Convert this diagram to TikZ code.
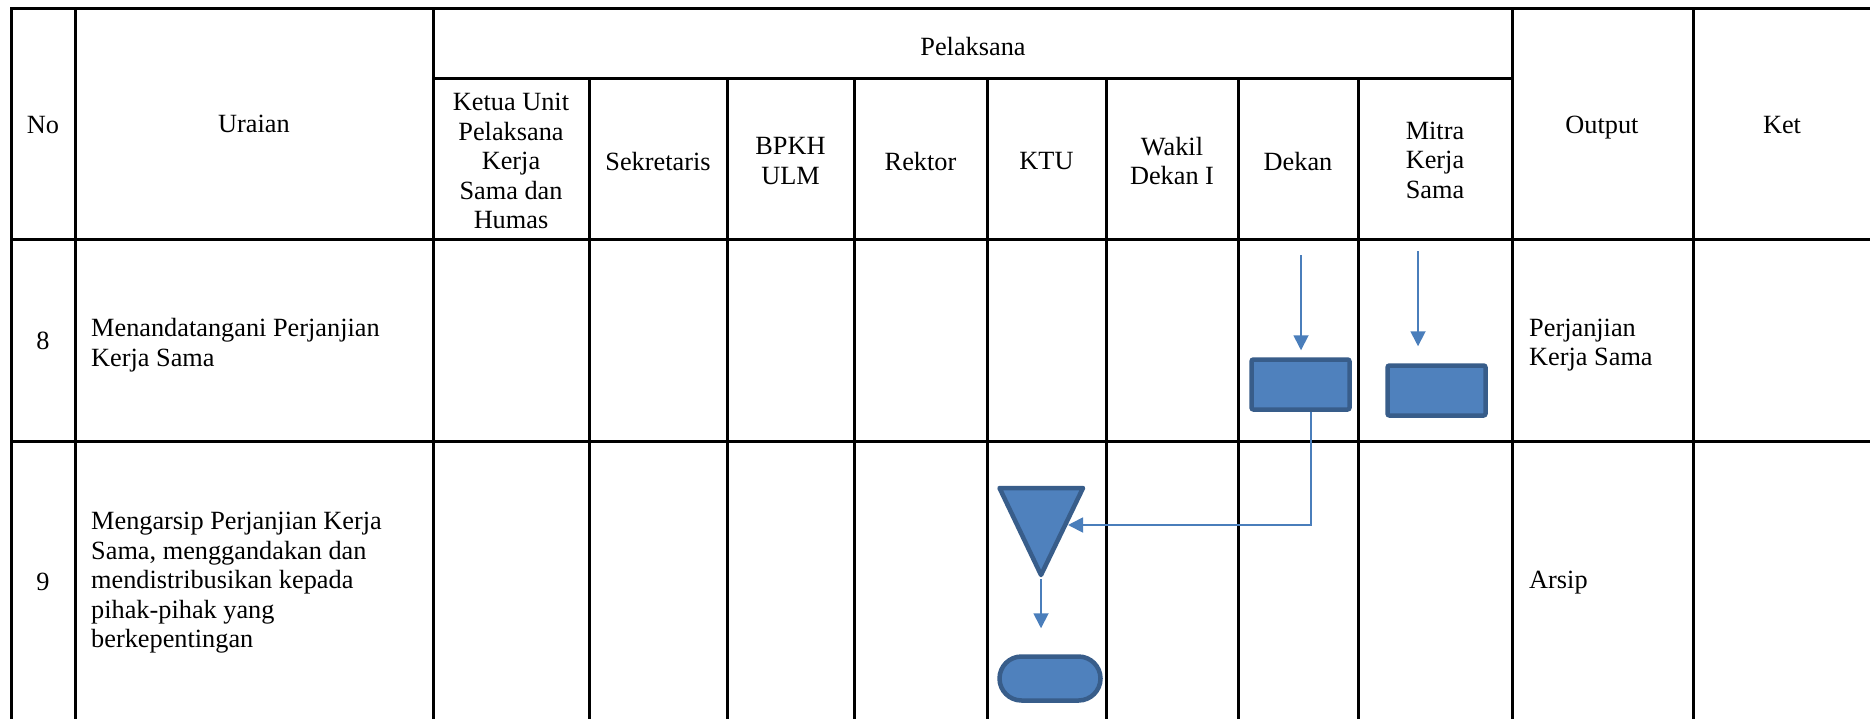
\documentclass[tikz,border=0pt]{standalone}
\usepackage{fontspec}
\setmainfont{Liberation Serif}
\usetikzlibrary{arrows.meta}
\definecolor{shapefill}{HTML}{4F81BD}
\definecolor{shapeline}{HTML}{385D8A}
\definecolor{connblue}{HTML}{4A7EBB}
\begin{document}
\begin{tikzpicture}[x=1pt,y=-1pt,
  gridline/.style={line width=3pt, black, line cap=rect},
  txt/.style={font=\fontsize{26.3}{29.5}\selectfont, inner sep=0pt, align=center},
  ltxt/.style={font=\fontsize{26.3}{29.5}\selectfont, inner sep=0pt, align=left, anchor=west},
  procbox/.style={draw=shapeline, fill=shapefill, line width=4.5pt, rounded corners=2pt,
    minimum width=98pt, minimum height=50pt, inner sep=0pt},
  termbox/.style={draw=shapeline, fill=shapefill, line width=4.5pt, rounded corners=22pt,
    minimum width=101pt, minimum height=44pt, inner sep=0pt},
  flowline/.style={draw=connblue, line width=1.8pt, -{Triangle[width=15pt,length=15pt]}}]
\useasboundingbox (0,0) rectangle (1870,718);
\fill[white] (0,0) rectangle (1870,718);

% table grid
\draw[gridline] (11,8.7) -- (1870,8.7);
\draw[gridline] (433,78.3) -- (1512,78.3);
\draw[gridline] (11,239.3) -- (1870,239.3);
\draw[gridline] (11,441) -- (1870,441);
\foreach \x in {11,75,433,1512,1693} \draw[gridline] (\x,8.7) -- (\x,725);
\foreach \x in {589,727,854,987,1106,1238,1358} \draw[gridline] (\x,78.3) -- (\x,725);

% header texts
\node[txt] (hNo) at (43,125) {No};
\node[txt] (hUraian) at (254,124) {Uraian};
\node[txt] (hPelaksana) at (973,47) {Pelaksana};
\node[txt] (hOutput) at (1602,128) {Output};
\node[txt] (hKet) at (1782,125) {Ket};
\node[txt] (hKetua) at (511,161) {Ketua Unit\\Pelaksana\\Kerja\\Sama dan\\Humas};
\node[txt] (hSekretaris) at (658,161) {Sekretaris};
\node[txt] (hBPKH) at (790.5,161) {BPKH\\ULM};
\node[txt] (hRektor) at (920.5,161) {Rektor};
\node[txt] (hKTU) at (1046.5,161) {KTU};
\node[txt] (hWakil) at (1172,161) {Wakil\\Dekan I};
\node[txt] (hDekan) at (1298,161) {Dekan};
\node[txt] (hMitra) at (1435,160) {Mitra\\Kerja\\Sama};

% row 8
\node[txt] (n8) at (43,341) {8};
\node[ltxt] (u8) at (91,345) {Menandatangani Perjanjian\\Kerja Sama};
\node[ltxt] (o8) at (1529,345) {Perjanjian\\Kerja Sama};

% row 9
\node[txt] (n9) at (43,582) {9};
\node[ltxt] (u9) at (91,583) {Mengarsip Perjanjian Kerja\\Sama, menggandakan dan\\mendistribusikan kepada\\pihak-pihak yang\\berkepentingan};
\node[ltxt] (o9) at (1529,583) {Arsip};

% flow shapes
\node[procbox] (dekan) at (1300.5,384.5) {};
\node[procbox] (mitra) at (1436.5,390.5) {};
\node[termbox] (term) at (1050,678.5) {};
\coordinate (triA) at (999.5,488);
\coordinate (triB) at (1083,488);
\coordinate (triC) at (1041,575);
\coordinate (triApex) at (1041,579);
\coordinate (triE) at (1068,525);
\draw[draw=shapeline, fill=shapefill, line width=4.5pt, line join=round] (triA) -- (triB) -- (triC) -- cycle;

% connectors
\coordinate (dekIn) at (1301,255);
\coordinate (mitIn) at (1418,251);
\coordinate (bend) at (1311,525);
\draw[flowline, shorten >=7pt] (dekIn) -- (dekIn |- dekan.north);
\draw[flowline, shorten >=17pt] (mitIn) -- (mitIn |- mitra.north);
\draw[flowline] (dekan.south -| bend) -- (bend) -- (triE);
\draw[flowline, shorten >=26pt] (triApex) -- (triApex |- term.north);
\end{tikzpicture}
\end{document}
